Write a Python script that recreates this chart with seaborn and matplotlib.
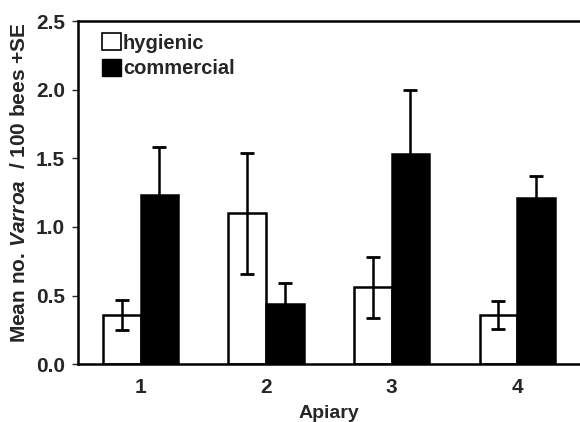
import numpy as np
import pandas as pd
import seaborn as sns
from matplotlib import pyplot as plt
from matplotlib.patches import Patch

apiaries = ["1", "2", "3", "4"]
hygienic_mean = [0.36, 1.10, 0.56, 0.36]
hygienic_se = [0.11, 0.44, 0.22, 0.10]
commercial_mean = [1.23, 0.44, 1.53, 1.21]
commercial_se = [0.35, 0.15, 0.47, 0.16]

df = pd.DataFrame({
    "Apiary": apiaries * 2,
    "mean": hygienic_mean + commercial_mean,
    "group": ["hygienic"] * 4 + ["commercial"] * 4,
})

sns.set_style("white")
plt.rcParams["font.family"] = ["Liberation Sans", "DejaVu Sans"]
plt.rcParams["mathtext.fontset"] = "custom"
plt.rcParams["mathtext.bfit"] = "Liberation Sans:style=italic:weight=bold"
plt.rcParams["mathtext.it"] = "Liberation Sans:style=italic:weight=bold"

fig = plt.figure(figsize=(5.8, 4.22), dpi=100)
ax = fig.add_axes([0.134, 0.137, 0.866, 0.813])

sns.barplot(data=df, x="Apiary", y="mean", hue="group",
            palette={"hygienic": "white", "commercial": "black"},
            width=0.6, gap=0, edgecolor="black", linewidth=1.8,
            errorbar=None, legend=False, ax=ax)

# error bars drawn from bar positions
for container, se in zip(ax.containers, [hygienic_se, commercial_se]):
    xs = [p.get_x() + p.get_width() / 2 for p in container]
    ys = [p.get_height() for p in container]
    ax.errorbar(xs, ys, yerr=se, fmt="none", ecolor="black",
                elinewidth=1.8, capsize=5, capthick=2)

ax.set_ylim(0, 2.5)
ax.set_xlim(-0.5, 3.5)
ax.set_yticks([0, 0.5, 1.0, 1.5, 2.0, 2.5])
ax.set_yticklabels(["0.0", "0.5", "1.0", "1.5", "2.0", "2.5"])
ax.set_xticks([0.5, 1.5, 2.5], minor=True)
ax.tick_params(axis="x", which="major", length=0, pad=10)
ax.tick_params(axis="x", which="minor", length=6, width=1, direction="inout")
ax.tick_params(axis="y", length=4, width=1, direction="out", left=True, pad=5)
for lab in ax.get_xticklabels() + ax.get_yticklabels():
    lab.set_fontsize(15)
    lab.set_fontweight("bold")

for side in ["left", "bottom", "top"]:
    ax.spines[side].set_visible(True)
    ax.spines[side].set_color("black")
    ax.spines[side].set_linewidth(1.8)
ax.spines["right"].set_visible(False)

ax.set_xlabel("Apiary", fontsize=14, fontweight="bold", labelpad=6)
ax.set_ylabel(r"Mean no. $\mathbfit{Varroa}$  / 100 bees +SE", fontsize=15,
              fontweight="bold")
ax.yaxis.set_label_coords(-0.097, 0.53)

handles = [Patch(facecolor="white", edgecolor="black", linewidth=1.2, label="hygienic"),
           Patch(facecolor="black", edgecolor="black", label="commercial")]
ax.legend(handles=handles, loc="upper left", bbox_to_anchor=(0.048, 0.965),
          frameon=False, borderaxespad=0, borderpad=0,
          handlelength=0.95, handleheight=0.95, handletextpad=0.1,
          labelspacing=0.3, prop={"weight": "bold", "size": 14.5})

fig.savefig("out.png", dpi=100)
